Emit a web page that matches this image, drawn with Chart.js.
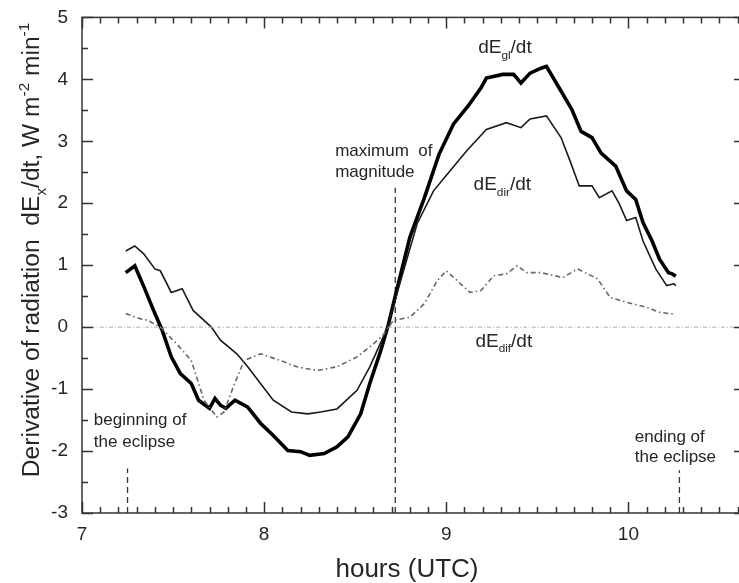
<!DOCTYPE html>
<html>
<head>
<meta charset="utf-8">
<script src="https://cdn.jsdelivr.net/npm/chart.js@4.4.1/dist/chart.umd.min.js"></script>
<style>
  html, body { margin: 0; padding: 0; background: #fff; overflow: hidden; }
  #wrap { width: 750px; height: 583px; }
</style>
</head>
<body>
<div id="wrap"><canvas id="chart" width="750" height="583"></canvas></div>
<script>
// axes
const hourTicks = [7, 8, 9, 10];
const valueTicks = [-3, -2, -1, 0, 1, 2, 3, 4, 5];

// dEgl/dt (thick line)
const globalHours = [7.24, 7.29, 7.34, 7.39, 7.44, 7.49, 7.54, 7.60, 7.64, 7.70, 7.73, 7.76, 7.79, 7.84, 7.91, 7.98,
  8.05, 8.13, 8.20, 8.25, 8.33, 8.40, 8.46, 8.53, 8.58, 8.64, 8.68, 8.73, 8.80, 8.88, 8.96, 9.04, 9.12, 9.19, 9.22,
  9.31, 9.37, 9.41, 9.46, 9.52, 9.55, 9.62, 9.69, 9.74, 9.80, 9.85, 9.93, 9.99, 10.04, 10.08, 10.13, 10.17, 10.22, 10.24, 10.26];
const globalValues = [0.88, 0.99, 0.65, 0.29, -0.05, -0.48, -0.75, -0.91, -1.18, -1.31, -1.15, -1.26, -1.31, -1.18, -1.29, -1.55,
  -1.75, -1.99, -2.01, -2.07, -2.04, -1.93, -1.77, -1.40, -0.91, -0.38, 0.02, 0.62, 1.45, 2.09, 2.79, 3.28, 3.57, 3.86, 4.02,
  4.08, 4.08, 3.94, 4.10, 4.18, 4.21, 3.86, 3.51, 3.16, 3.06, 2.81, 2.60, 2.20, 2.06, 1.69, 1.39, 1.10, 0.88, 0.86, 0.82];

// dEdir/dt (thin line)
const directHours = [7.24, 7.29, 7.34, 7.40, 7.43, 7.49, 7.55, 7.61, 7.71, 7.76, 7.85, 7.91, 7.98, 8.05, 8.15, 8.24,
  8.31, 8.40, 8.51, 8.58, 8.64, 8.68, 8.73, 8.84, 8.93, 9.02, 9.11, 9.22, 9.33, 9.41, 9.46, 9.55, 9.63, 9.68, 9.73,
  9.80, 9.84, 9.91, 9.95, 9.99, 10.04, 10.08, 10.15, 10.21, 10.25, 10.26];
const directValues = [1.23, 1.31, 1.18, 0.94, 0.91, 0.56, 0.62, 0.27, 0.00, -0.21, -0.43, -0.64, -0.91, -1.18, -1.37, -1.40,
  -1.37, -1.32, -1.02, -0.64, -0.25, 0.02, 0.55, 1.67, 2.20, 2.52, 2.84, 3.19, 3.30, 3.22, 3.36, 3.41, 3.06, 2.68, 2.28,
  2.28, 2.09, 2.20, 1.99, 1.72, 1.77, 1.39, 0.94, 0.67, 0.70, 0.67];

// dEdif/dt (dash-dot line)
const diffuseHours = [7.24, 7.30, 7.36, 7.43, 7.52, 7.60, 7.67, 7.74, 7.78, 7.83, 7.89, 7.98, 8.09, 8.18, 8.29, 8.40,
  8.51, 8.60, 8.65, 8.71, 8.80, 8.88, 8.95, 9.00, 9.06, 9.13, 9.19, 9.26, 9.33, 9.39, 9.44, 9.52, 9.64, 9.72, 9.83,
  9.90, 9.99, 10.10, 10.17, 10.25];
const diffuseValues = [0.22, 0.15, 0.11, 0.00, -0.27, -0.54, -1.18, -1.45, -1.37, -0.97, -0.54, -0.43, -0.54, -0.64, -0.70, -0.64,
  -0.48, -0.27, -0.14, 0.11, 0.16, 0.38, 0.75, 0.91, 0.75, 0.56, 0.59, 0.83, 0.86, 0.99, 0.88, 0.88, 0.80, 0.94, 0.78,
  0.48, 0.40, 0.32, 0.24, 0.21];

// eclipse events: beginning, maximum, ending
const eventHours = [7.25, 8.72, 10.28];
const eventTops = [-2.28, 2.25, -2.31];

const xMin = 7, xMax = 10.64, yMin = -3, yMax = 5;

const pts = (xs, ys) => xs.map((x, i) => ({ x: x, y: ys[i] }));

const datasets = [
  { data: [{ x: xMin, y: 0 }, { x: xMax, y: 0 }], borderColor: '#b0b0b0', borderWidth: 1, borderDash: [4, 2, 1, 2] },
  { data: pts(diffuseHours, diffuseValues), borderColor: '#666', borderWidth: 1.6, borderDash: [5, 3, 1.5, 3] },
  { data: pts(directHours, directValues), borderColor: '#1a1a1a', borderWidth: 1.6 },
  { data: pts(globalHours, globalValues), borderColor: '#000', borderWidth: 3.6 }
];
eventHours.forEach((h, i) => {
  datasets.push({ data: [{ x: h, y: yMin }, { x: h, y: eventTops[i] }], borderColor: '#333', borderWidth: 1.3, borderDash: [6, 4] });
});
datasets.forEach(d => { d.pointRadius = 0; d.tension = 0; d.fill = false; });

const FONT = '"Liberation Sans", Arial, sans-serif';
const TEXT = '#262626';

// text with sub/superscripts
function richWidth(ctx, parts, size) {
  let w = 0;
  parts.forEach(p => {
    ctx.font = ((p.sub || p.sup) ? size * 0.62 : size) + 'px ' + FONT;
    w += ctx.measureText(p.t).width;
  });
  return w;
}
function drawRich(ctx, parts, x, y, size) {
  parts.forEach(p => {
    const s = (p.sub || p.sup) ? size * 0.62 : size;
    ctx.font = s + 'px ' + FONT;
    const dy = p.sub ? size * 0.28 : (p.sup ? -size * 0.42 : 0);
    ctx.fillText(p.t, x, y + dy);
    x += ctx.measureText(p.t).width;
  });
}

const labels = [
  { parts: [{ t: 'dE' }, { t: 'gl', sub: true }, { t: '/dt' }], x: 9.175, y: 4.42 },
  { parts: [{ t: 'dE' }, { t: 'dir', sub: true }, { t: '/dt' }], x: 9.15, y: 2.21 },
  { parts: [{ t: 'dE' }, { t: 'dif', sub: true }, { t: '/dt' }], x: 9.16, y: -0.32 }
];
const notes = [
  { t: 'maximum  of', x: 8.39, y: 2.76 },
  { t: 'magnitude', x: 8.39, y: 2.43 },
  { t: 'beginning of', x: 7.065, y: -1.58 },
  { t: 'the eclipse', x: 7.065, y: -1.93 },
  { t: 'ending of', x: 10.035, y: -1.85 },
  { t: 'the eclipse', x: 10.035, y: -2.18 }
];

const framePlugin = {
  id: 'frame',
  afterDatasetsDraw(chart) {
    const { ctx, chartArea: a, scales: { x, y } } = chart;
    ctx.save();
    ctx.strokeStyle = '#333';
    ctx.lineWidth = 1.5;
    ctx.strokeRect(a.left, a.top, a.right - a.left, a.bottom - a.top);
    ctx.beginPath();
    for (let i = 0; i <= Math.round((xMax - xMin) * 10); i++) {
      const v = xMin + i / 10;
      const px = Math.round(x.getPixelForValue(v)) + 0.5;
      const len = (i % 10 === 0) ? 11 : 6;
      ctx.moveTo(px, a.bottom); ctx.lineTo(px, a.bottom - len);
      ctx.moveTo(px, a.top); ctx.lineTo(px, a.top + len);
    }
    for (let v = yMin; v <= yMax; v += 0.5) {
      const py = Math.round(y.getPixelForValue(v)) + 0.5;
      const len = Number.isInteger(v) ? 11 : 6;
      ctx.moveTo(a.left, py); ctx.lineTo(a.left + len, py);
      ctx.moveTo(a.right, py); ctx.lineTo(a.right - len, py);
    }
    ctx.stroke();

    ctx.fillStyle = TEXT;
    ctx.textBaseline = 'alphabetic';
    ctx.textAlign = 'left';
    labels.forEach(l => drawRich(ctx, l.parts, x.getPixelForValue(l.x), y.getPixelForValue(l.y), 19));
    ctx.font = '17px ' + FONT;
    notes.forEach(n => ctx.fillText(n.t, x.getPixelForValue(n.x), y.getPixelForValue(n.y)));

    // axis titles
    ctx.font = '26px ' + FONT;
    ctx.textAlign = 'center';
    ctx.fillText('hours (UTC)', 407, 577);

    const yTitle = [{ t: 'Derivative of radiation  dE' }, { t: 'x', sub: true }, { t: '/dt, W m' }, { t: '-2', sup: true },
      { t: ' min' }, { t: '-1', sup: true }];
    ctx.save();
    ctx.translate(39, 250);
    ctx.rotate(-Math.PI / 2);
    ctx.textAlign = 'left';
    const w = richWidth(ctx, yTitle, 24.6);
    drawRich(ctx, yTitle, -w / 2, 0, 24.6);
    ctx.restore();
    ctx.restore();
  }
};

new Chart(document.getElementById('chart'), {
  type: 'line',
  data: { datasets: datasets },
  options: {
    responsive: false,
    animation: false,
    layout: { autoPadding: false, padding: { top: 16, right: 5, left: 0, bottom: 0 } },
    plugins: { legend: { display: false }, tooltip: { enabled: false } },
    scales: {
      x: {
        type: 'linear', min: xMin, max: xMax,
        grid: { display: false }, border: { display: false },
        afterBuildTicks: s => { s.ticks = hourTicks.map(v => ({ value: v })); },
        afterFit: s => { s.height = 70; },
        ticks: { padding: 2, maxRotation: 0, color: TEXT, font: { family: FONT, size: 19 } }
      },
      y: {
        type: 'linear', min: yMin, max: yMax,
        grid: { display: false }, border: { display: false },
        afterBuildTicks: s => { s.ticks = valueTicks.map(v => ({ value: v })); },
        afterFit: s => { s.width = 82; },
        ticks: { padding: 6, color: TEXT, font: { family: FONT, size: 19 } }
      }
    }
  },
  plugins: [framePlugin]
});
</script>
</body>
</html>
